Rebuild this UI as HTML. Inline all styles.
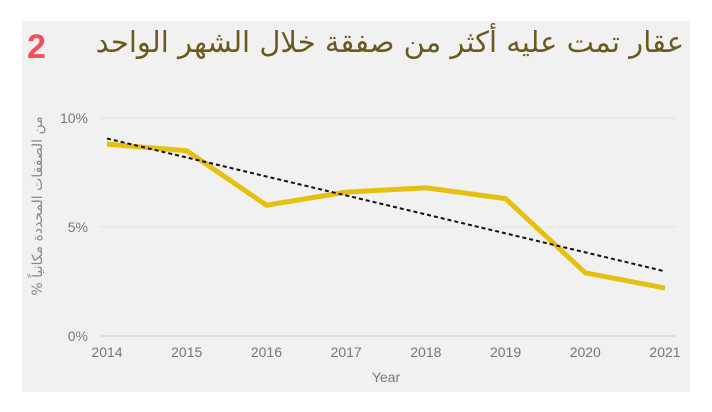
<!DOCTYPE html>
<html><head><meta charset="utf-8"><style>
body{margin:0;background:#fff;width:712px;height:412px;overflow:hidden;font-family:"Liberation Sans","DejaVu Sans",sans-serif}
#panel{position:absolute;left:22px;top:21px;width:668px;height:371px;background:#f1f1f1}
#title{position:absolute;right:28px;top:25px;font-size:29px;color:#6b5a1e;font-family:"DejaVu Sans","Noto Sans CJK SC",sans-serif;direction:rtl;white-space:nowrap}
#num{position:absolute;left:27px;top:28px;font-size:34px;font-weight:bold;color:#f0505a}
svg{position:absolute;left:0;top:0}
</style></head><body>
<div id="panel"></div>
<div id="num">2</div>
<div id="title">عقار تمت عليه أكثر من صفقة خلال الشهر الواحد</div>
<svg id="chart" width="712" height="412"></svg>
<script>
const years=[2014,2015,2016,2017,2018,2019,2020,2021];
const values=[8.8,8.5,6.0,6.6,6.8,6.3,2.9,2.2];
const yTicks=[0,5,10];
const NS="http://www.w3.org/2000/svg";
const svg=document.getElementById('chart');
const x0=107,x1=665,yb=336,yt=118;
const xs=i=>x0+(x1-x0)*i/(years.length-1);
const ys=v=>yb-(yb-yt)*v/10;
function mk(t,a,p){const e=document.createElementNS(NS,t);for(const k in a)e.setAttribute(k,a[k]);(p||svg).appendChild(e);return e;}
yTicks.forEach(t=>{
 const g=mk('line',{x1:100,x2:676,y1:ys(t),y2:ys(t),stroke:t==0?'#d0d0d0':'#e2e2e2','stroke-width':1});
 
 
 const l=mk('text',{x:88,y:ys(t)+5,'text-anchor':'end','font-size':14,fill:'#777'});
 l.textContent=t+'%';
 
 
});
years.forEach((y,i)=>{
 const l=mk('text',{x:xs(i),y:357,'text-anchor':'middle','font-size':14,fill:'#777'});
 l.textContent=y;
 
 
});
const xt=mk('text',{x:386,y:382,'text-anchor':'middle','font-size':14,fill:'#777'});
xt.textContent='Year';


const yt2=mk('text',{x:0,y:0,'text-anchor':'middle','font-size':14,fill:'#888',transform:'translate(42,206) rotate(-90)','font-family':'DejaVu Sans,sans-serif'});
yt2.textContent='% من الصفقات المحددة مكانياً';


const pl=mk('polyline',{points:values.map((v,i)=>xs(i)+','+ys(v)).join(' '),fill:'none',stroke:'#e6c010','stroke-width':5,'stroke-linejoin':'round'});


const n=values.length,mx=(n-1)/2,my=values.reduce((a,b)=>a+b)/n;
let sxy=0,sxx=0;values.forEach((v,i)=>{sxy+=(i-mx)*(v-my);sxx+=(i-mx)*(i-mx);});
const sl=sxy/sxx,ic=my-sl*mx;
const tr=mk('line',{x1:xs(0),y1:ys(ic),x2:xs(n-1),y2:ys(ic+sl*(n-1)),stroke:'#111','stroke-width':2,'stroke-dasharray':'4,3'});


</script>
</body></html>
